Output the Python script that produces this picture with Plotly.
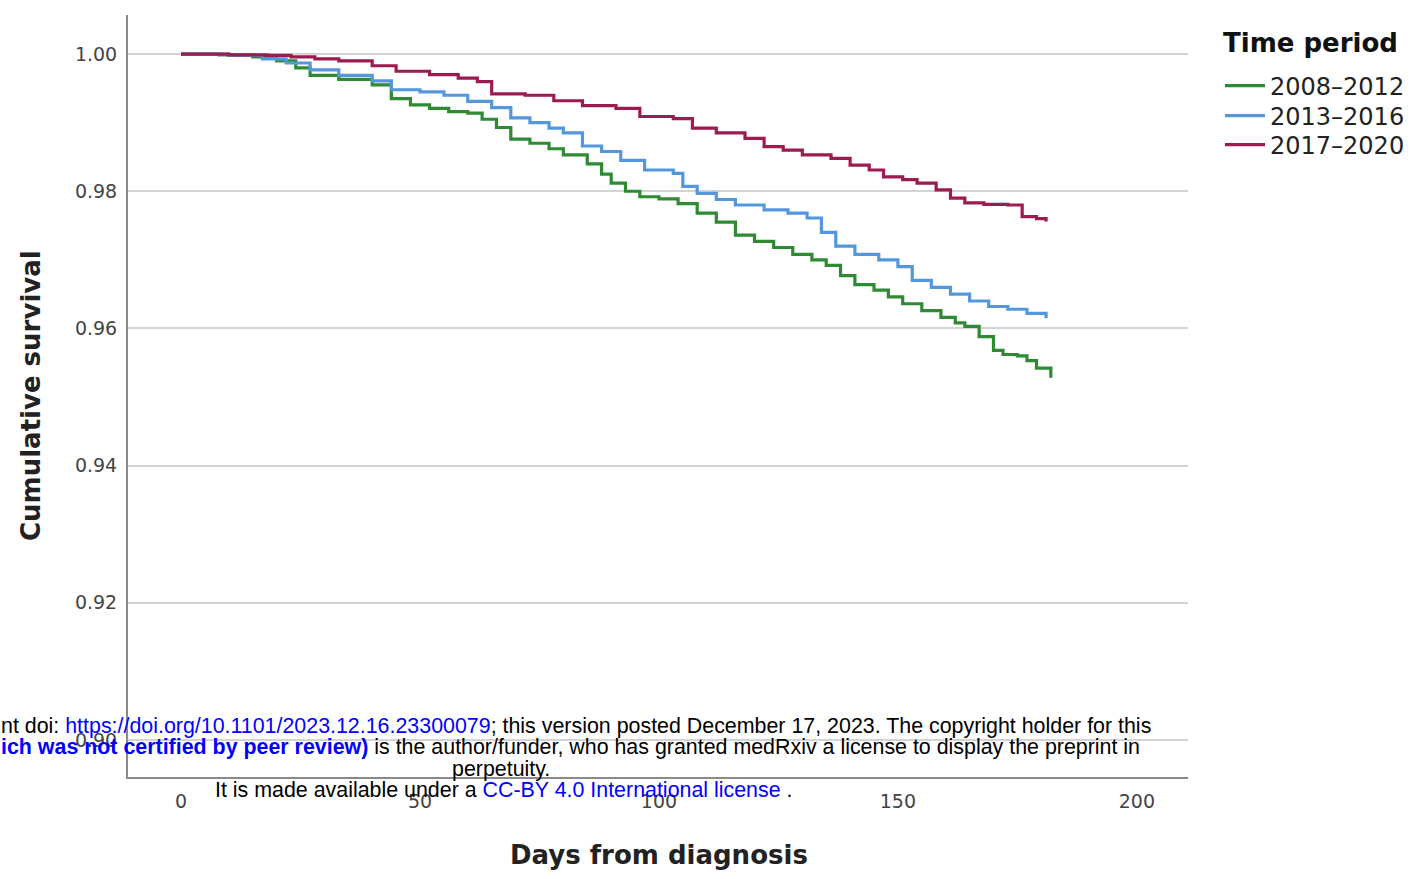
import plotly.graph_objects as go

# ---- data ----
series_names = ["2008–2012", "2013–2016", "2017–2020"]
legend_title = "Time period"

days_2008 = [0, 8, 15, 20, 24, 27, 33, 40, 44, 48, 52, 56, 60, 63, 66, 69, 73, 77, 80, 85, 88, 90, 93, 96,
             100, 104, 108, 112, 116, 120, 124, 128, 132, 135, 138, 141, 145, 148, 151, 155, 159, 162,
             164, 167, 170, 172, 175, 177, 179, 182]
surv_2008 = [1.0000, 0.9999, 0.9996, 0.9990, 0.9980, 0.9969, 0.9963, 0.9955, 0.9935, 0.9926, 0.9921,
             0.9916, 0.9914, 0.9905, 0.9893, 0.9876, 0.9870, 0.9862, 0.9853, 0.9840, 0.9825, 0.9812,
             0.9800, 0.9792, 0.9789, 0.9782, 0.9768, 0.9755, 0.9736, 0.9727, 0.9718, 0.9708, 0.9700,
             0.9692, 0.9677, 0.9664, 0.9656, 0.9646, 0.9636, 0.9626, 0.9616, 0.9608, 0.9603, 0.9588,
             0.9568, 0.9562, 0.9560, 0.9553, 0.9542, 0.9528]

days_2013 = [0, 10, 17, 22, 27, 33, 40, 44, 50, 55, 60, 65, 69, 73, 77, 80, 84, 88, 92, 97, 103, 105,
             108, 112, 116, 122, 127, 131, 134, 137, 141, 146, 150, 153, 157, 161, 165, 169, 173, 177, 181]
surv_2013 = [1.0000, 0.9998, 0.9993, 0.9987, 0.9977, 0.9969, 0.9961, 0.9948, 0.9945, 0.9940, 0.9931,
             0.9922, 0.9907, 0.9900, 0.9892, 0.9885, 0.9866, 0.9858, 0.9845, 0.9831, 0.9826, 0.9807,
             0.9797, 0.9788, 0.9780, 0.9773, 0.9768, 0.9761, 0.9740, 0.9720, 0.9708, 0.9700, 0.9690,
             0.9670, 0.9660, 0.9650, 0.9640, 0.9632, 0.9628, 0.9622, 0.9615]

days_2017 = [0, 10, 18, 23, 28, 33, 40, 45, 52, 58, 62, 65, 72, 78, 84, 91, 96, 103, 107, 112, 118, 122,
             126, 130, 136, 140, 144, 147, 151, 154, 158, 161, 164, 168, 173, 176, 179, 181]
surv_2017 = [1.0000, 0.9999, 0.9998, 0.9996, 0.9993, 0.9990, 0.9983, 0.9975, 0.9970, 0.9965, 0.9960,
             0.9942, 0.9940, 0.9932, 0.9925, 0.9921, 0.9909, 0.9906, 0.9892, 0.9885, 0.9877, 0.9865,
             0.9860, 0.9853, 0.9848, 0.9838, 0.9831, 0.9821, 0.9817, 0.9812, 0.9802, 0.9790, 0.9783,
             0.9781, 0.9780, 0.9763, 0.9760, 0.9756]

x_ticks = [0, 50, 100, 150, 200]
y_ticks = [0.90, 0.92, 0.94, 0.96, 0.98, 1.00]

colors = ["#2e8b34", "#5597dc", "#9c1c52"]
legend_ids = ["legend", "legend2", "legend3"]

fig = go.Figure()
for name, xs, ys, c, lg in zip(series_names, [days_2008, days_2013, days_2017],
                               [surv_2008, surv_2013, surv_2017], colors, legend_ids):
    fig.add_trace(go.Scatter(x=xs, y=ys, name=name, mode="lines", legend=lg,
                             line=dict(color=c, width=3.2, shape="hv")))

W, H = 1415, 879
ml, mr, mt, mb = 128, 227, 15, 102
pw, ph = W - ml - mr, H - mt - mb

def px(xp):
    return (xp - ml) / pw

def py(yp):
    return (H - mb - yp) / ph

legend_centers = [86, 116, 145]
legend_common = dict(font=dict(size=24, color="#222222"), itemwidth=40,
                     bgcolor="rgba(0,0,0,0)", xanchor="left", yanchor="middle")

fig.update_layout(
    width=W, height=H,
    margin=dict(l=ml, r=mr, t=mt, b=mb, autoexpand=False),
    paper_bgcolor="white", plot_bgcolor="white",
    font=dict(family="DejaVu Sans", color="#333333"),
    showlegend=True,
    legend=dict(x=px(1220), y=py(legend_centers[0]), **legend_common),
    legend2=dict(x=px(1220), y=py(legend_centers[1]), **legend_common),
    legend3=dict(x=px(1220), y=py(legend_centers[2]), **legend_common),
    xaxis=dict(
        range=[-11.1, 210.7], tickmode="array", tickvals=x_ticks,
        showgrid=False, zeroline=False,
        showline=True, linecolor="#8a8a8a", linewidth=2,
        ticks="outside", ticklen=6, tickcolor="rgba(0,0,0,0)",
        tickfont=dict(size=19, color="#444444"),
    ),
    yaxis=dict(
        range=[0.8946, 1.0057], tickmode="array", tickvals=y_ticks, tickformat=".2f",
        showgrid=True, gridcolor="#d4d4d4", gridwidth=2, zeroline=False,
        showline=True, linecolor="#8a8a8a", linewidth=2,
        ticks="outside", ticklen=5, tickcolor="rgba(0,0,0,0)",
        tickfont=dict(size=19, color="#444444"),
    ),
)

# legend title
fig.add_annotation(text="<b>%s</b>" % legend_title, xref="paper", yref="paper",
                   x=px(1310), y=py(43), xanchor="center", yanchor="middle", showarrow=False,
                   font=dict(size=26, color="#111111", family="DejaVu Sans"))

# axis titles
fig.add_annotation(text="<b>Cumulative survival</b>", xref="paper", yref="paper",
                   x=px(31), y=py(396), xanchor="center", yanchor="middle",
                   textangle=-90, showarrow=False,
                   font=dict(size=26, color="#222222", family="DejaVu Sans"))
fig.add_annotation(text="<b>Days from diagnosis</b>", xref="paper", yref="paper",
                   x=px(659), y=py(855), xanchor="center", yanchor="middle",
                   showarrow=False,
                   font=dict(size=26, color="#222222", family="DejaVu Sans"))

# medRxiv watermark lines
wm_font = dict(family="Liberation Sans", size=21.4, color="black")
blue = "#0000ff"
wm_lines = [
    ("nt doi: <span style='color:%s'>https://doi.org/10.1101/2023.12.16.23300079</span>; "
     "this version posted December 17, 2023. The copyright holder for this" % blue, 0, 726, "left"),
    ("<span style='color:%s'><b>ich was not certified by peer review)</b></span> is the author/funder, "
     "who has granted medRxiv a license to display the preprint in" % blue, 0, 747, "left"),
    ("perpetuity.", 501, 769, "center"),
    ("It is made available under a <span style='color:%s'>CC-BY 4.0 International license</span> ." % blue,
     504, 790, "center"),
]
for txt, xp, yp, anchor in wm_lines:
    fig.add_annotation(text=txt, xref="paper", yref="paper", x=px(xp), y=py(yp),
                       xanchor=anchor, yanchor="middle", showarrow=False,
                       font=wm_font, borderpad=0)

fig.write_html("out.html", config={"displayModeBar": False},
               post_script="document.body.style.margin='0';document.body.style.overflow='hidden';")
